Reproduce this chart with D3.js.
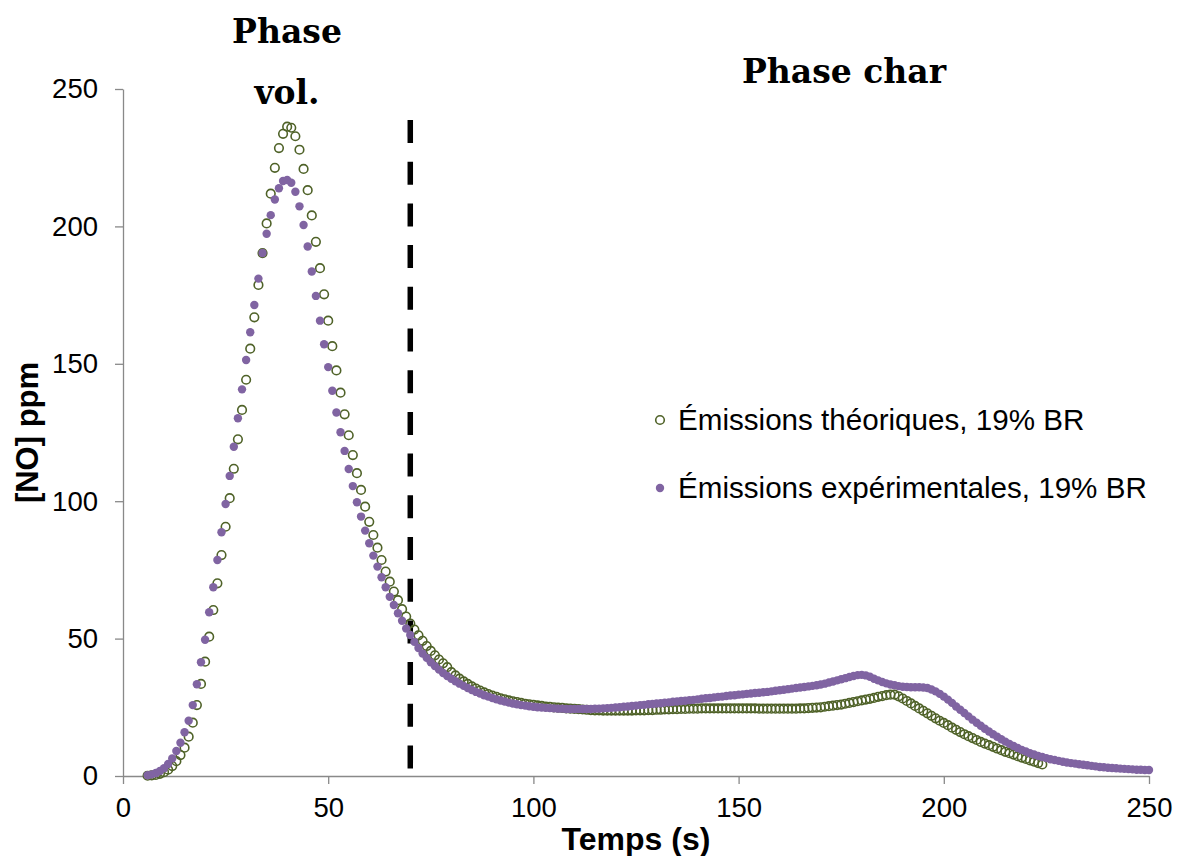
<!DOCTYPE html>
<html>
<head>
<meta charset="utf-8">
<script src="https://cdn.jsdelivr.net/npm/d3@7"></script>
<style>
  html, body { margin: 0; padding: 0; background: #ffffff; }
  svg { display: block; }
</style>
</head>
<body>
<svg id="chart" width="1179" height="856"></svg>
<script>
// ---------------- DATA ----------------
const theoStart = 6;   // first time (s) of the theoretical series, 1 s step
const theoValues = [
  0.1, 0.2, 0.4, 0.8, 1.4, 2.3, 3.6, 5.4, 7.6, 10.3,
  14.3, 19.4, 25.8, 33.5, 41.6, 50.7, 60.4, 70.1, 80.4, 90.7,
  101.1, 111.8, 122.5, 133.2, 144.2, 155.5, 166.9, 178.7, 190.3, 201.1,
  211.9, 221.3, 228.5, 233.7, 236.3, 235.9, 232.8, 227.9, 220.9, 213.2,
  204.0, 194.4, 184.8, 175.3, 165.7, 156.4, 147.6, 139.5, 131.6, 124.0,
  116.8, 110.2, 104.1, 98.0, 92.5, 87.7, 83.1, 78.6, 74.4, 70.7,
  67.1, 64.0, 60.7, 58.0, 55.5, 53.3, 51.2, 49.2, 47.3, 45.5,
  43.9, 42.4, 41.0, 39.6, 37.8, 36.6, 35.4, 34.4, 33.5, 32.6,
  31.8, 31.1, 30.4, 29.8, 29.3, 28.8, 28.3, 27.9, 27.5, 27.2,
  26.9, 26.6, 26.3, 26.1, 25.9, 25.7, 25.5, 25.3, 25.2, 25.0,
  24.9, 24.8, 24.6, 24.5, 24.4, 24.3, 24.2, 24.1, 24.0, 23.9,
  23.9, 23.8, 23.8, 23.8, 23.8, 23.8, 23.8, 23.8, 23.8, 23.9,
  23.9, 23.9, 24.0, 24.0, 24.1, 24.1, 24.2, 24.2, 24.3, 24.3,
  24.4, 24.4, 24.5, 24.5, 24.5, 24.6, 24.6, 24.6, 24.6, 24.6,
  24.6, 24.6, 24.6, 24.6, 24.6, 24.6, 24.6, 24.6, 24.6, 24.5,
  24.5, 24.5, 24.5, 24.5, 24.5, 24.5, 24.5, 24.5, 24.5, 24.6,
  24.6, 24.7, 24.8, 24.9, 25.0, 25.2, 25.4, 25.6, 25.8, 26.0,
  26.3, 26.6, 26.9, 27.2, 27.5, 27.8, 28.1, 28.4, 28.8, 29.1,
  29.4, 29.6, 29.6, 29.0, 28.2, 27.3, 26.4, 25.5, 24.6, 23.7,
  22.8, 21.9, 21.0, 20.1, 19.3, 18.5, 17.6, 16.8, 16.0, 15.2,
  14.5, 13.8, 13.1, 12.4, 11.8, 11.2, 10.6, 10.0, 9.4, 8.8,
  8.3, 7.8, 7.2, 6.7, 6.2, 5.7, 5.2, 4.7, 4.2
];

const expStart = 6;    // first time (s) of the experimental series, 1 s step
const expValues = [
  0.3, 0.6, 1.1, 1.8, 2.8, 4.4, 6.4, 9.1, 12.1, 15.9,
  20.1, 25.8, 33.4, 41.4, 49.6, 59.6, 68.7, 78.6, 88.7, 99.0,
  109.2, 119.8, 130.2, 140.7, 151.4, 161.5, 171.4, 181.0, 190.3, 197.3,
  204.1, 209.8, 213.9, 216.5, 216.9, 215.9, 212.6, 207.3, 200.5, 192.7,
  183.6, 174.7, 165.7, 157.1, 148.8, 140.2, 132.3, 125.1, 118.3, 111.7,
  105.5, 99.6, 94.4, 89.3, 84.7, 80.2, 76.2, 72.3, 68.7, 65.2,
  62.2, 59.2, 56.5, 53.7, 51.3, 48.8, 46.6, 44.6, 43.0, 41.4,
  40.0, 38.7, 37.5, 36.4, 35.4, 34.5, 33.6, 32.8, 32.0, 31.3,
  30.6, 30.0, 29.4, 28.9, 28.4, 27.9, 27.5, 27.1, 26.7, 26.4,
  26.1, 25.8, 25.6, 25.4, 25.2, 25.0, 24.9, 24.8, 24.7, 24.6,
  24.5, 24.5, 24.4, 24.4, 24.4, 24.4, 24.4, 24.4, 24.4, 24.5,
  24.5, 24.6, 24.7, 24.8, 24.9, 25.0, 25.2, 25.3, 25.5, 25.6,
  25.8, 25.9, 26.1, 26.2, 26.4, 26.5, 26.7, 26.8, 27.0, 27.1,
  27.3, 27.4, 27.6, 27.7, 27.9, 28.1, 28.3, 28.4, 28.6, 28.8,
  28.9, 29.1, 29.3, 29.4, 29.6, 29.7, 29.9, 30.0, 30.2, 30.3,
  30.5, 30.6, 30.8, 31.0, 31.2, 31.4, 31.6, 31.8, 32.0, 32.2,
  32.4, 32.6, 32.8, 33.0, 33.3, 33.6, 34.0, 34.4, 34.8, 35.2,
  35.6, 36.0, 36.4, 36.7, 36.8, 36.6, 36.1, 35.4, 34.8, 34.2,
  33.7, 33.3, 33.0, 32.7, 32.5, 32.4, 32.3, 32.3, 32.3, 32.2,
  32.0, 31.5, 30.8, 29.9, 28.9, 27.8, 26.6, 25.3, 24.1, 22.9,
  21.7, 20.5, 19.4, 18.3, 17.2, 16.2, 15.2, 14.3, 13.4, 12.5,
  11.7, 10.9, 10.2, 9.5, 8.9, 8.3, 7.8, 7.3, 6.9, 6.5,
  6.1, 5.8, 5.5, 5.2, 4.9, 4.7, 4.5, 4.3, 4.1, 3.9,
  3.7, 3.5, 3.3, 3.2, 3.0, 2.9, 2.8, 2.7, 2.6, 2.5,
  2.4, 2.3, 2.3, 2.2, 2.2
];

const xTicks = [0, 50, 100, 150, 200, 250];
const yTicks = [0, 50, 100, 150, 200, 250];
const phaseBoundary = 70;
const seriesNames = ["Émissions théoriques, 19% BR", "Émissions expérimentales, 19% BR"];
const xTitle = "Temps (s)";
const yTitle = "[NO] ppm";
const phaseVolLines = ["Phase", "vol."];
const phaseCharLabel = "Phase char";

// ---------------- LAYOUT ----------------
const colTheo = "#4F6228";
const colExp = "#8064A2";
const axisCol = "#898989";
const sansFont = "Arial, 'Liberation Sans', sans-serif";
const serifFont = "'DejaVu Serif', Georgia, serif";

const svg = d3.select("#chart");
svg.append("rect").attr("width", 1179).attr("height", 856).attr("fill", "#fff");

const x = d3.scaleLinear().domain([0, 250]).range([123, 1149]);
const y = d3.scaleLinear().domain([0, 250]).range([776, 89]);

const theo = theoValues.map((v, i) => ({ t: theoStart + i, v }));
const exp = expValues.map((v, i) => ({ t: expStart + i, v }));

// Axes
const xAxis = d3.axisBottom(x).tickValues(xTicks).tickSize(8).tickSizeOuter(0).tickPadding(13).tickFormat(d3.format("d"));
const yAxis = d3.axisLeft(y).tickValues(yTicks).tickSize(8).tickSizeOuter(0).tickPadding(17).tickFormat(d3.format("d"));

const gx = svg.append("g").attr("transform", `translate(0,${y(0)})`).call(xAxis);
const gy = svg.append("g").attr("transform", `translate(${x(0)},0)`).call(yAxis);
[gx, gy].forEach(g => {
  g.select(".domain").attr("stroke", axisCol).attr("stroke-width", 1.3);
  g.selectAll(".tick line").attr("stroke", axisCol).attr("stroke-width", 1.3);
  g.selectAll(".tick text").attr("fill", "#000").style("font-family", sansFont).style("font-size", "27.5px");
});

// Dashed phase boundary
svg.append("line")
  .attr("x1", x(phaseBoundary)).attr("x2", x(phaseBoundary))
  .attr("y1", 120).attr("y2", y(0) - 2)
  .attr("stroke", "#000").attr("stroke-width", 5.5)
  .attr("stroke-dasharray", "23,18.7");

// Theoretical: open circles
svg.append("g").selectAll("circle").data(theo).join("circle")
  .attr("cx", d => x(d.t)).attr("cy", d => y(d.v)).attr("r", 4.3)
  .attr("fill", "none").attr("stroke", colTheo).attr("stroke-width", 1.6);

// Experimental: filled dots
svg.append("g").selectAll("circle").data(exp).join("circle")
  .attr("cx", d => x(d.t)).attr("cy", d => y(d.v)).attr("r", 4.2)
  .attr("fill", colExp);

// Axis titles
svg.append("text").attr("x", (x(0) + x(250)) / 2).attr("y", 850)
  .attr("text-anchor", "middle").style("font-family", sansFont)
  .style("font-size", "32px").style("font-weight", "bold").text(xTitle);
svg.append("text").attr("transform", `translate(38,${(y(0) + y(250)) / 2}) rotate(-90)`)
  .attr("text-anchor", "middle").style("font-family", sansFont)
  .style("font-size", "31px").style("font-weight", "bold").text(yTitle);

// Phase labels
svg.append("text").attr("x", 287).attr("y", 43).attr("text-anchor", "middle")
  .style("font-family", serifFont).style("font-size", "33px").style("font-weight", "bold").text(phaseVolLines[0]);
svg.append("text").attr("x", 287).attr("y", 104).attr("text-anchor", "middle")
  .style("font-family", serifFont).style("font-size", "33px").style("font-weight", "bold").text(phaseVolLines[1]);
svg.append("text").attr("x", 844).attr("y", 83).attr("text-anchor", "middle")
  .style("font-family", serifFont).style("font-size", "33px").style("font-weight", "bold").text(phaseCharLabel);

// Legend
const leg = svg.append("g");
leg.append("circle").attr("cx", 660).attr("cy", 420).attr("r", 4.3)
  .attr("fill", "none").attr("stroke", colTheo).attr("stroke-width", 1.6);
leg.append("text").attr("x", 678).attr("y", 430).style("font-family", sansFont)
  .style("font-size", "29.6px").text(seriesNames[0]);
leg.append("circle").attr("cx", 660).attr("cy", 488).attr("r", 4.2).attr("fill", colExp);
leg.append("text").attr("x", 678).attr("y", 498).style("font-family", sansFont)
  .style("font-size", "29.6px").text(seriesNames[1]);
</script>
</body>
</html>
